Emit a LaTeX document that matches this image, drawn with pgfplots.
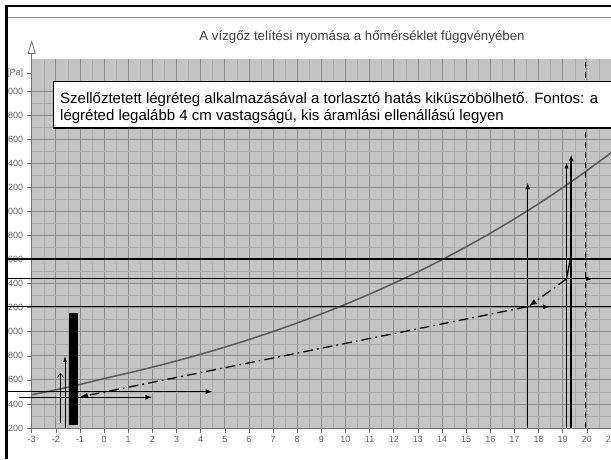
\documentclass[border=0pt]{standalone}
\usepackage{pgfplots}
\pgfplotsset{compat=1.18}
\usepackage{pgfplotstable}
\usetikzlibrary{arrows.meta}
\usepackage{fontspec}
\setmainfont{Liberation Sans}

% saturation pressure of water vapour
\pgfplotstableread{
t p
-3 476
-2 517
-1 562
0 611
1 657
2 706
3 758
4 813
5 872
6 935
7 1002
8 1073
9 1148
10 1228
11 1313
12 1403
13 1498
14 1599
15 1706
16 1819
17 1938
18 2064
19 2198
20 2339
21 2487
}\psat

\begin{document}
\begin{tikzpicture}[x=1pt,y=1pt]
\useasboundingbox (0,0) rectangle (611,459);
\clip (5,0) rectangle (611,454);
\begin{axis}[
  at={(31.7pt,31pt)}, anchor=south west,
  scale only axis, width=579.3pt, height=368.9pt,
  xmin=-3, xmax=21, ymin=200, ymax=3266,
  axis background/.style={fill=black!23},
  grid=both,
  major grid style={black!45, line width=0.8pt},
  minor grid style={black!32, line width=0.5pt},
  minor x tick num=1, minor y tick num=1,
  minor tick length=0pt,
  xtick={-3,-2,...,21},
  ytick={200,400,...,3000},
  extra y ticks={3150},
  extra y tick labels={{[Pa]}},
  extra y tick style={grid=none},
  axis x line*=bottom, axis y line*=left,
  axis line style={black!55, line width=0.8pt, -},
  tick align=outside, major tick length=5pt,
  tick style={black!55, line width=0.6pt},
  ticklabel style={font=\fontsize{9}{10}\selectfont, text=black!60},
  /pgf/number format/assume math mode=true,
  /pgf/number format/1000 sep={},
  scaled y ticks=false,
  clip=false,
]
% curve
\addplot[no marks, black!65, line width=1.5pt, smooth] table {\psat};
% dashed limit at 20 C
\addplot[no marks, black, line width=1.3pt, dash pattern=on 6pt off 4pt] coordinates {(19.93,200) (19.93,3266)};
% horizontal lines
\addplot[no marks, black, line width=1.3pt] coordinates {(-4.2,1605) (21,1605)};
\addplot[no marks, black, line width=1.3pt] coordinates {(-4.2,1440) (21,1440)};
\addplot[no marks, black, line width=1.3pt] coordinates {(-4.2,1207) (21,1207)};
\addplot[no marks, black, line width=1.3pt, -{Latex[length=7pt,width=5pt]}] coordinates {(19.3,1440) (20.25,1440)};
\addplot[no marks, black, line width=1.3pt, -{Latex[length=7pt,width=5pt]}] coordinates {(17.5,1207) (18.47,1207)};
% bottom left arrows
\addplot[no marks, black, line width=1.3pt, -{Latex[length=7pt,width=5pt]}] coordinates {(-4.2,502) (4.5,502)};
\addplot[no marks, black, line width=1.3pt, -{Latex[length=7pt,width=5pt]}] coordinates {(-3.53,456) (2.0,456)};
% dash-dot line
\addplot[no marks, black, line width=1.3pt, dash pattern=on 10pt off 4pt on 1.8pt off 4pt, -{Latex[length=8pt,width=6pt]}] coordinates {(19.16,1440) (17.6,1212)};
\addplot[no marks, black, line width=1.3pt, dash pattern=on 10pt off 4pt on 1.8pt off 4pt, -{Latex[length=8pt,width=6pt]}] coordinates {(17.5,1207) (-1.0,458)};
\addplot[no marks, black, line width=1.3pt] coordinates {(19.16,1440) (19.33,1625)};
% vertical arrows right
\addplot[no marks, black, line width=1.4pt, -{Latex[length=7pt,width=5pt]}] coordinates {(17.55,200) (17.55,2242)};
\addplot[no marks, black, line width=0.8pt, -{Latex[length=6pt,width=4pt]}] coordinates {(19.16,200) (19.16,2408)};
\addplot[no marks, black, line width=1.4pt, -{Latex[length=7pt,width=5pt]}] coordinates {(19.35,200) (19.35,2475)};
% left side
\addplot[no marks, black, line width=0.6pt, -{Straight Barb[length=4pt,width=6pt]}] coordinates {(-1.81,240) (-1.81,658)};
\addplot[no marks, black, line width=1pt, -{Latex[length=6pt,width=4pt]}] coordinates {(-1.62,200) (-1.62,800)};
\addplot[draw=black, fill=black] coordinates {(-1.44,233) (-1.11,233) (-1.11,1156) (-1.44,1156)} -- cycle;
\end{axis}
% y axis arrow
\draw[black!55, line width=0.8pt, -{Triangle[open, length=14pt, width=8pt]}] (31.7,399.9) -- (31.7,419);
% title
\node[text=black!75, font=\fontsize{13.3}{15}\selectfont] at (362,422) {A vízgőz telítési nyomása a hőmérséklet függvényében};
% note box
\draw[fill=white, line width=1pt] (53,331) rectangle (640,377);
\node[anchor=base west, inner sep=0pt, font=\fontsize{15}{17}\selectfont] at (60,355.5) {Szellőztetett légréteg alkalmazásával a torlasztó hatás kiküszöbölhető. Fontos: a};
\node[anchor=base west, inner sep=0pt, font=\fontsize{15}{17}\selectfont] at (60,338.5) {légréted legalább 4 cm vastagságú, kis áramlási ellenállású legyen};
% frame
\draw[black!45, line width=0.6pt] (7,441.5) -- (611,441.5);
\fill[black] (5,0) rectangle (7.5,454);
\fill[black] (5,451.5) rectangle (611,454);
\end{tikzpicture}
\end{document}
